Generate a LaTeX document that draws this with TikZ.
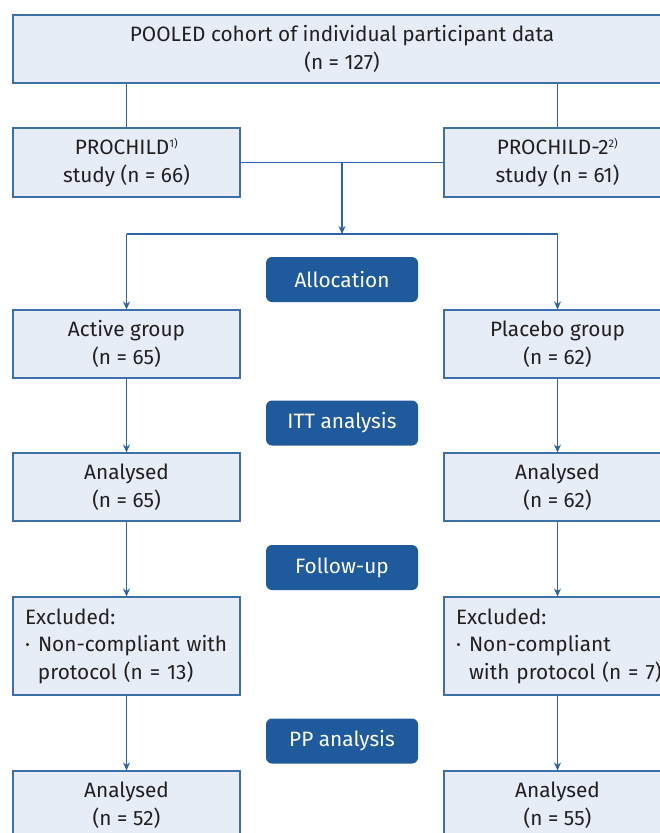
\documentclass[tikz,border=0pt]{standalone}
\usepackage{fontspec}
\setmainfont{Fira Sans}
\usetikzlibrary{arrows.meta}
\definecolor{boxfill}{HTML}{E6EDF6}
\definecolor{boxline}{HTML}{3D6FA8}
\definecolor{conn}{HTML}{2E63A5}
\definecolor{btn}{HTML}{1E5A9C}
\definecolor{txt}{HTML}{231F20}
\begin{document}
\begin{tikzpicture}[x=1pt,y=-1pt,
  box/.style={draw=boxline,fill=boxfill,line width=1.1pt,minimum width=227pt,minimum height=68pt,inner sep=0pt,align=center,text=txt,font=\fontsize{20.8}{27.5}\selectfont},
  exbox/.style={box,minimum height=98pt,align=left,text width=203pt},
  btnbox/.style={fill=btn,rounded corners=6pt,minimum width=152pt,minimum height=45pt,inner sep=0pt,text=white,font=\fontsize{20.8}{24}\selectfont},
  conn/.style={draw=conn,line width=1.3pt},
  arr/.style={conn,-{Stealth[length=8pt,width=7pt]}}]
\clip (0,0) rectangle (660,833);
\useasboundingbox (0,0) rectangle (660,833);
\node[box,minimum width=658pt] (top) at (342,49) {POOLED cohort of individual participant data\\(n = 127)};
\node[box,minimum height=69pt] (p1) at (126.5,162.5) {PROCHILD\textsuperscript{\fontsize{11}{11}\selectfont 1)}\\study (n = 66)};
\node[box,minimum height=69pt] (p2) at (557.5,162.5) {PROCHILD-2\textsuperscript{\fontsize{11}{11}\selectfont 2)}\\study (n = 61)};
\node[btnbox] (alloc) at (342,279.5) {Allocation};
\node[box] (act) at (126.5,344) {Active group\\(n = 65)};
\node[box] (pla) at (557.5,344) {Placebo group\\(n = 62)};
\node[btnbox] (itt) at (342,423) {ITT analysis};
\node[box] (an1) at (126.5,487) {Analysed\\(n = 65)};
\node[box] (an2) at (557.5,487) {Analysed\\(n = 62)};
\node[btnbox] (fu) at (342,567.5) {Follow-up};
\node[exbox] (ex1) at (126.5,646) {Excluded:\\\makebox[13pt][l]{·}Non-compliant with\\\hspace*{13pt}protocol (n = 13)};
\node[exbox] (ex2) at (557.5,646) {Excluded:\\\makebox[13pt][l]{·}Non-compliant\\\makebox[203pt][l]{\hspace*{13pt}with protocol (n = 7)}};
\node[btnbox] (pp) at (342,741) {PP analysis};
\node[box] (an3) at (126.5,805) {Analysed\\(n = 52)};
\node[box] (an4) at (557.5,805) {Analysed\\(n = 55)};
% connectors
\draw[conn] (top.south -| p1) -- (p1.north);
\draw[conn] (top.south -| p2) -- (p2.north);
\draw[conn] (p1.east) -- (p2.west);
\coordinate (mid) at (342,162.5);
\coordinate (split) at (342,234);
\draw[arr] (mid) -- (split);
\draw[conn] (split -| act) -- (split -| pla);
\draw[arr] (split -| act) -- (act.north);
\draw[arr] (split -| pla) -- (pla.north);
\draw[arr] (act) -- (an1);
\draw[arr] (pla) -- (an2);
\draw[arr] (an1) -- (ex1);
\draw[arr] (an2) -- (ex2);
\draw[arr] (ex1) -- (an3);
\draw[arr] (ex2) -- (an4);
\end{tikzpicture}
\end{document}
